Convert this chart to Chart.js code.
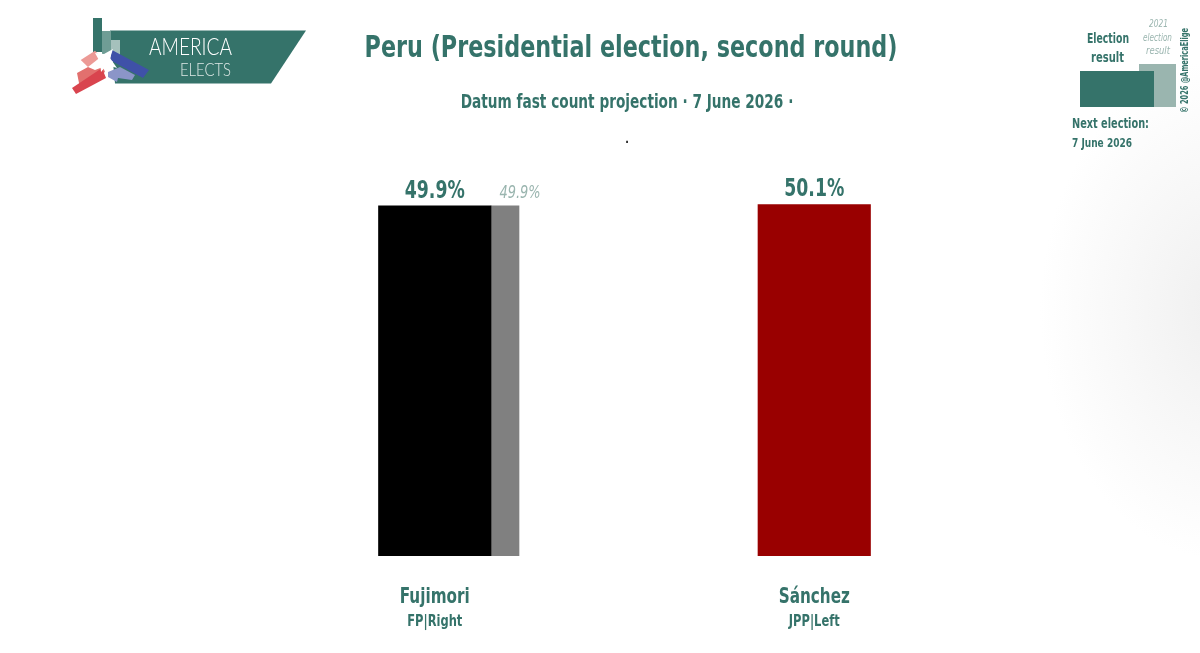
<!DOCTYPE html>
<html>
<head>
<meta charset="utf-8">
<title>Peru (Presidential election, second round)</title>
<script src="https://cdn.jsdelivr.net/npm/chart.js@4"></script>
<style>
  html, body { margin: 0; padding: 0; width: 1200px; height: 653px; overflow: hidden; }
  body {
    position: relative;
    background: radial-gradient(ellipse 185px 250px at 1225px 310px, #efefef 0%, #f8f8f8 55%, #ffffff 100%);
    font-family: "DejaVu Sans Condensed", "DejaVu Sans", sans-serif;
    color: #35736a;
  }
  #chart { position: absolute; left: 0; top: 0; }
  .txt { position: absolute; white-space: nowrap; font-weight: 700; }
  #title { left: 631px; top: 25px; font-size: 30px; line-height: 44px; transform: translateX(-50%) scaleX(0.826); }
  #sub { left: 627px; top: 89px; font-size: 19px; line-height: 25px; transform: translateX(-50%) scaleX(0.8); }
  #dot { left: 627px; top: 131px; font-size: 12px; line-height: 16px; color: #333; transform: translateX(-50%); }
  svg { position: absolute; left: 0; top: 0; }
</style>
</head>
<body>
<canvas id="chart" width="1200" height="653"></canvas>

<div class="txt" id="title">Peru (Presidential election, second round)</div>
<div class="txt" id="sub">Datum fast count projection · 7 June 2026 ·</div>
<div class="txt" id="dot">.</div>

<!-- logo -->
<svg width="330" height="110" viewBox="0 0 330 110">
  <polygon points="110,30.5 306,30.5 271,83.5 115,83.5" fill="#35736a"/>
  <rect x="93" y="18" width="9" height="34" fill="#35736a"/>
  <rect x="102" y="31" width="9" height="24" fill="#6f9d95"/>
  <rect x="111" y="40" width="9" height="18" fill="#a5c1bc"/>
  <polygon points="80.7,60 95,50.7 100.7,57 88,67" fill="#ec9a96"/>
  <polygon points="77,73 88,67 95,70 103,67 105,72 80,88" fill="#e2706e"/>
  <polygon points="72,88 102,68 106,78 76,94" fill="#d9444e"/>
  <polygon points="108,72 120,67 135,75 132,80 118,78 117,82 108,77" fill="#8b95c8"/>
  <polygon points="112,50 149,70 143,78 110,60" fill="#3f51a8"/>
  <polygon points="95,53 104,54 113,49 110,58 117,68 107,65 101,72 100,62" fill="#fff"/>
  <text x="149" y="55" font-family="Lato" font-weight="300" font-size="23" fill="#fff" textLength="83" lengthAdjust="spacingAndGlyphs">AMERICA</text>
  <text x="180" y="76" font-family="Lato" font-weight="300" font-size="17" fill="#dfe9e7" textLength="51" lengthAdjust="spacingAndGlyphs">ELECTS</text>
</svg>

<!-- small key, top right -->
<svg width="1200" height="160" viewBox="0 0 1200 160" style="pointer-events:none">
  <rect x="1139" y="64" width="37" height="43" fill="#9ab5af"/>
  <rect x="1080" y="71" width="74" height="36" fill="#35736a"/>
  <g font-family="'DejaVu Sans Condensed','DejaVu Sans',sans-serif">
    <g font-size="14.5" font-weight="700" fill="#35736a">
      <text x="1087" y="43" textLength="42" lengthAdjust="spacingAndGlyphs">Election</text>
      <text x="1091" y="62" textLength="33" lengthAdjust="spacingAndGlyphs">result</text>
    </g>
    <g font-size="10.5" font-style="italic" fill="#9ab5af">
      <text x="1149" y="27" textLength="19" lengthAdjust="spacingAndGlyphs">2021</text>
      <text x="1143" y="41" textLength="29" lengthAdjust="spacingAndGlyphs">election</text>
      <text x="1146" y="54" textLength="24" lengthAdjust="spacingAndGlyphs">result</text>
    </g>
    <g font-weight="700" fill="#35736a">
      <text x="1072" y="128" font-size="14" textLength="77" lengthAdjust="spacingAndGlyphs">Next election:</text>
      <text x="1072" y="147" font-size="13" textLength="60" lengthAdjust="spacingAndGlyphs">7 June 2026</text>
      <text transform="translate(1188,113) rotate(-90)" font-size="10.5" textLength="85" lengthAdjust="spacingAndGlyphs">© 2026 @AmericaElige</text>
    </g>
  </g>
</svg>

<script>
const candidates = ["Fujimori", "Sánchez"];
const parties = ["FP|Right", "JPP|Left"];
const results = [49.9, 50.1];
const previousResults = [49.9, null];

const FONT = '"DejaVu Sans Condensed", "DejaVu Sans", sans-serif';
const TEAL = "#35736a";
const PALE = "#9ab5af";
const BAR_W = 112.5;
const PREV_W = 28;

// the reference font is narrower than anything installed, so squeeze it
function narrowText(ctx, text, x, y, squeeze) {
  ctx.save();
  ctx.translate(x, y);
  ctx.scale(squeeze, 1);
  ctx.fillText(text, 0, 0);
  ctx.restore();
}

// moves the previous-result bars next to the current ones and writes the labels
const barLabels = {
  id: "barLabels",
  afterDatasetsUpdate(chart) {
    chart.getDatasetMeta(1).data.forEach(function (bar) {
      bar.x += (BAR_W + PREV_W) / 2;
    });
  },
  afterDraw(chart) {
    const ctx = chart.ctx;
    ctx.save();
    ctx.textAlign = "center";
    ctx.textBaseline = "alphabetic";

    chart.getDatasetMeta(0).data.forEach(function (bar, i) {
      ctx.fillStyle = TEAL;
      ctx.font = "700 25px " + FONT;
      narrowText(ctx, results[i].toFixed(1) + "%", bar.x, bar.y - 8, 0.77);
      ctx.font = "700 22px " + FONT;
      narrowText(ctx, candidates[i], bar.x, 603, 0.77);
      ctx.font = "700 15px " + FONT;
      narrowText(ctx, parties[i], bar.x, 626, 0.85);
    });

    chart.getDatasetMeta(1).data.forEach(function (bar, i) {
      if (previousResults[i] === null) return;
      ctx.font = "italic 400 18px " + FONT;
      ctx.fillStyle = PALE;
      narrowText(ctx, previousResults[i].toFixed(1) + "%", bar.x + 15, bar.y - 8, 0.8);
    });
    ctx.restore();
  }
};

new Chart(document.getElementById("chart"), {
  type: "bar",
  data: {
    labels: candidates,
    datasets: [
      {
        label: "Election result",
        data: results,
        backgroundColor: ["#000000", "#990000"],
        barThickness: BAR_W,
        grouped: false,
        order: 1
      },
      {
        label: "2021 election result",
        data: previousResults,
        backgroundColor: ["#808080", "#cc8080"],
        barThickness: PREV_W,
        grouped: false,
        order: 2
      }
    ]
  },
  options: {
    responsive: false,
    animation: false,
    layout: { padding: { left: 245, right: 196, top: 135, bottom: 97 } },
    plugins: {
      legend: { display: false },
      tooltip: { enabled: false }
    },
    scales: {
      x: { display: false },
      y: {
        display: false,
        min: 0,
        max: 60
      }
    }
  },
  plugins: [barLabels]
});
</script>
</body>
</html>
